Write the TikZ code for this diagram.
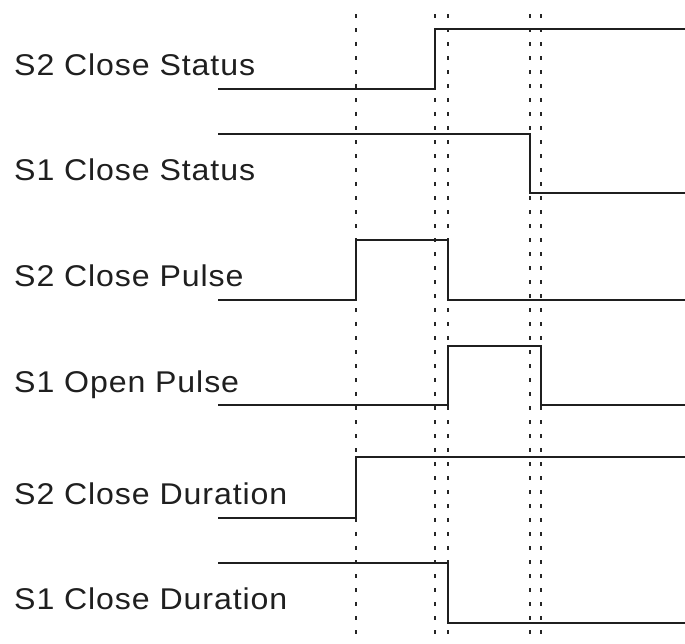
\documentclass[tikz,border=0pt]{standalone}
\usepackage{fontspec}
\setmainfont[FakeStretch=1.07,LetterSpace=3]{Liberation Sans}
\begin{document}
\begin{tikzpicture}[x=1pt,y=-1pt,
  sig/.style={line width=2.7pt,line join=miter,black!88},
  guide/.style={line width=2.3pt,dash pattern=on 4pt off 10pt,black!85},
  lbl/.style={anchor=base west,inner sep=0pt,font=\fontsize{30}{35}\selectfont,text=black!88}]
\useasboundingbox (0,0) rectangle (685,643);
% time markers
\foreach \n/\x in {ta/356,tb/435,tc/448,td/530,te/541}{
  \coordinate (\n top) at (\x,14);
  \coordinate (\n bot) at (\x,642);
}
\foreach \n in {ta,tb,tc,td,te}{\draw[guide] (\n top) -- (\n bot);}
% labels
\node[lbl] (l1) at (14,75) {S2 Close Status};
\node[lbl] (l2) at (14,180) {S1 Close Status};
\node[lbl] (l3) at (14,286) {S2 Close Pulse};
\node[lbl] (l4) at (14,392) {S1 Open Pulse};
\node[lbl] (l5) at (14,504) {S2 Close Duration};
\node[lbl] (l6) at (14,609) {S1 Close Duration};
% signals
\draw[sig] (218,89) -- (435,89) -- (435,29) -- (685,29);
\draw[sig] (218,134) -- (530,134) -- (530,193) -- (685,193);
\draw[sig] (218,300) -- (356,300) -- (356,240) -- (448,240) -- (448,300) -- (685,300);
\draw[sig] (218,405) -- (448,405) -- (448,346) -- (541,346) -- (541,405) -- (685,405);
\draw[sig] (218,518) -- (356,518) -- (356,457) -- (685,457);
\draw[sig] (218,563) -- (448,563) -- (448,623) -- (685,623);
\end{tikzpicture}
\end{document}
